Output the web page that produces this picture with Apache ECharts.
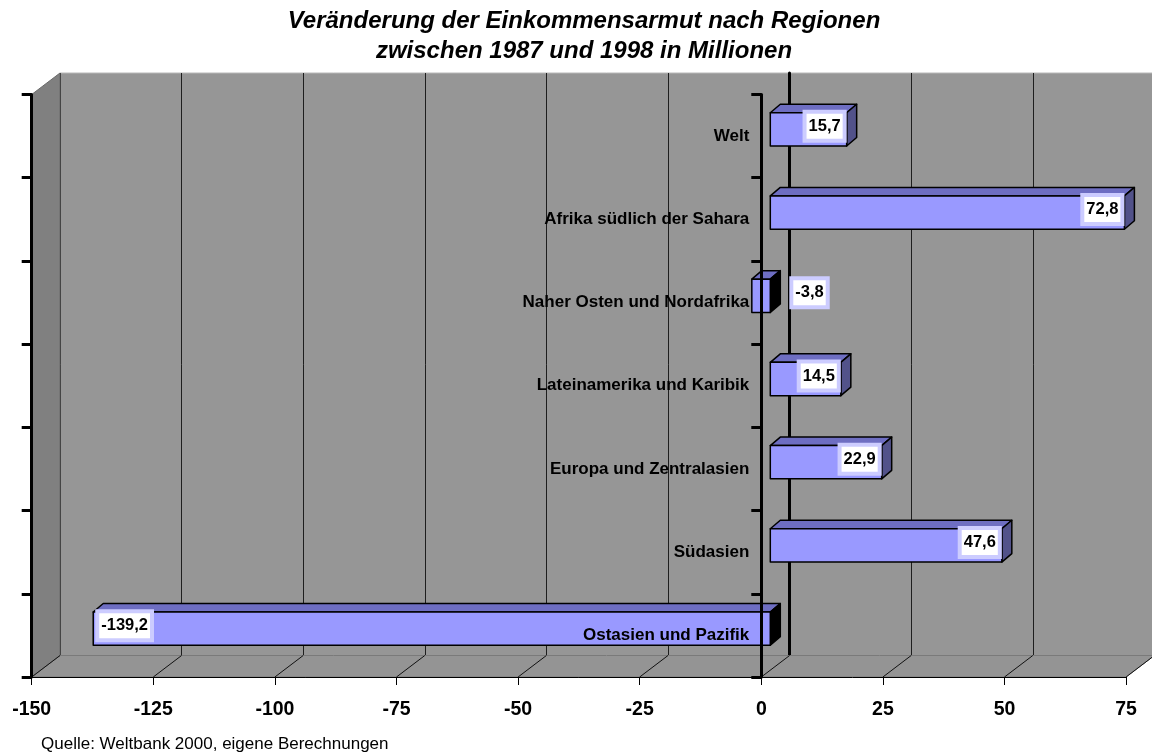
<!DOCTYPE html>
<html>
<head>
<meta charset="utf-8">
<script src="https://cdn.jsdelivr.net/npm/echarts@6/dist/echarts.min.js"></script>
<style>
html,body{margin:0;padding:0;background:#fff;}
#chart{width:1152px;height:753px;}
</style>
</head>
<body>
<div id="chart"></div>
<script>
// ---- data ----
const categories = ['Welt', 'Afrika südlich der Sahara', 'Naher Osten und Nordafrika', 'Lateinamerika und Karibik', 'Europa und Zentralasien', 'Südasien', 'Ostasien und Pazifik'];
const values = [15.7, 72.8, -3.8, 14.5, 22.9, 47.6, -139.2];
const valueLabels = ['15,7', '72,8', '-3,8', '14,5', '22,9', '47,6', '-139,2'];
const xTicks = [-150, -125, -100, -75, -50, -25, 0, 25, 50, 75];
const titleLines = ['Veränderung der Einkommensarmut nach Regionen', 'zwischen 1987 und 1998 in Millionen'];
const sourceText = 'Quelle: Weltbank 2000, eigene Berechnungen';

// ---- layout / style ----
const FONT = "Liberation Sans";
const G = { left: 31.7, top: 94.5, width: 1094.4, height: 582.5 }; // front plane
const DEPTH = { dx: 28.3, dy: -21.5 };   // back wall offset
const BARPLANE = { dx: 9, dy: -6.75 };    // bar front face offset
const BARDEPTH = { dx: 10, dy: -8.5 };    // bar extrusion
const xMin = xTicks[0], xMax = xTicks[xTicks.length - 1], xStep = xTicks[1] - xTicks[0];

const chart = echarts.init(document.getElementById('chart'), null, { renderer: 'canvas' });

function gridAt(off, extra) {
  return Object.assign({
    left: G.left + off.dx, top: G.top + off.dy, width: G.width, height: G.height,
    containLabel: false, outerBoundsMode: 'none'
  }, extra || {});
}

const option = {
  animation: false,
  backgroundColor: '#ffffff',
  title: [{
    text: titleLines.join('\n'),
    left: 579, top: 2, textAlign: 'center',
    textStyle: { fontFamily: FONT, fontSize: 24, fontWeight: 'bold', fontStyle: 'italic', color: '#000', lineHeight: 29.5 }
  }, {
    text: sourceText, left: 36, top: 731,
    textStyle: { fontFamily: FONT, fontSize: 17, fontWeight: 'normal', color: '#000' }
  }],
  grid: [
    gridAt({ dx: 0, dy: 0 }),
    gridAt(DEPTH, { show: true, backgroundColor: '#969696', borderColor: '#B8B8B8', borderWidth: 1 }),
    gridAt(BARPLANE)
  ],
  xAxis: [{
    gridIndex: 0, type: 'value', min: xMin, max: xMax, interval: xStep,
    axisLine: { show: true, onZero: false, lineStyle: { color: '#000', width: 1 } },
    axisTick: { show: true, length: 8, lineStyle: { color: '#000', width: 1 } },
    axisLabel: { fontFamily: FONT, fontSize: 19.5, fontWeight: 'bold', color: '#000', margin: 23, hideOverlap: false },
    splitLine: { show: false }, z: 10
  }, {
    gridIndex: 1, type: 'value', min: xMin, max: xMax, interval: xStep,
    axisLine: { show: false }, axisTick: { show: false }, axisLabel: { show: false },
    splitLine: { show: true, lineStyle: { color: '#1e1e1e', width: 1 } }
  }, {
    gridIndex: 2, type: 'value', min: xMin, max: xMax, interval: xStep, show: false
  }],
  yAxis: [{
    gridIndex: 0, type: 'category', data: categories, inverse: true, position: 'left',
    axisLine: { show: true, onZero: false, lineStyle: { color: '#000', width: 3 } },
    axisTick: { show: true, length: 10, lineStyle: { color: '#000', width: 3 } },
    axisLabel: { show: false }, splitLine: { show: false }, z: 10
  }, {
    gridIndex: 0, type: 'category', data: categories, inverse: true, position: 'left', offset: 0,
    axisLine: { show: true, onZero: false, lineStyle: { color: '#000', width: 3 } },
    axisTick: { show: true, length: 10, lineStyle: { color: '#000', width: 3 } },
    axisLabel: { show: true, fontFamily: FONT, fontSize: 17, fontWeight: 'bold', color: '#000', margin: 12, interval: 0 },
    splitLine: { show: false }, z: 10
  }, {
    gridIndex: 1, type: 'category', data: categories, inverse: true,
    axisLine: { show: true, onZero: true, lineStyle: { color: '#000', width: 3 } },
    axisTick: { show: false }, axisLabel: { show: false }, splitLine: { show: false }
  }, {
    gridIndex: 2, type: 'category', data: categories, inverse: true, show: false
  }],
  series: [{
    type: 'custom',
    xAxisIndex: 2, yAxisIndex: 3,
    z: 5,
    data: values.map((v, i) => [v, i]),
    encode: { x: 0, y: 1 },
    renderItem: function (params, api) {
      const v = api.value(0), i = api.value(1);
      const p0 = api.coord([0, i]);
      const p1 = api.coord([v, i]);
      const h = api.size([0, 1])[1] * 0.4;
      const xl = Math.min(p0[0], p1[0]), xr = Math.max(p0[0], p1[0]);
      const yt = p0[1] - h / 2, yb = p0[1] + h / 2;
      const dx = BARDEPTH.dx, dy = BARDEPTH.dy;
      const stroke = { stroke: '#000', lineWidth: 1.5, lineJoin: 'round' };
      const children = [
        { type: 'polygon', shape: { points: [[xl, yt], [xl + dx, yt + dy], [xr + dx, yt + dy], [xr, yt]] }, style: Object.assign({ fill: '#6E6EC2' }, stroke) },
        { type: 'polygon', shape: { points: [[xr, yt], [xr + dx, yt + dy], [xr + dx, yb + dy], [xr, yb]] }, style: Object.assign({ fill: v < 0 ? '#000000' : '#52528A' }, stroke) },
        { type: 'rect', shape: { x: xl, y: yt, width: xr - xl, height: h }, style: Object.assign({ fill: '#9999FF' }, stroke) }
      ];
      let tx, align;
      if (v >= 0) { tx = xr - 4; align = 'right'; }
      else if (xr - xl > 60) { tx = xl + 6; align = 'left'; }
      else { tx = p0[0] + 23; align = 'left'; }
      children.push({
        type: 'text',
        style: {
          x: tx, y: p0[1] - 3, text: valueLabels[params.dataIndex],
          align: align, verticalAlign: 'middle',
          fontFamily: FONT, fontSize: 16.5, fontWeight: 'bold', fill: '#000',
          backgroundColor: '#FFFFFF', borderColor: '#CCCCFF', borderWidth: 4,
          padding: [4, 2, 4, 2]
        }
      });
      return { type: 'group', children: children };
    }
  }]
};

chart.setOption(option);

// category axis sits on the value axis' zero (front plane), with its labels
const zeroX = chart.convertToPixel({ xAxisIndex: 0 }, 0);
const leftX = chart.convertToPixel({ xAxisIndex: 0 }, xMin);
chart.setOption({ yAxis: [{}, { offset: -(zeroX - leftX) }, {}, {}] });

// 3D box decoration (floor and side wall), positioned through the axis scale
const FB = G.top + G.height, FT = G.top;
const FL = leftX;
const FR = chart.convertToPixel({ xAxisIndex: 0 }, xMax);
const D = DEPTH;
const graphics = [];
graphics.push({
  type: 'polygon', z: 1, silent: true,
  shape: { points: [[FL, FB], [FR, FB], [FR + D.dx, FB + D.dy], [FL + D.dx, FB + D.dy]] },
  style: { fill: '#949494', stroke: '#7A7A7A', lineWidth: 1 }
});
graphics.push({
  type: 'polygon', z: 1, silent: true,
  shape: { points: [[FL, FT], [FL + D.dx, FT + D.dy], [FL + D.dx, FB + D.dy], [FL, FB]] },
  style: { fill: '#808080', stroke: '#6A6A6A', lineWidth: 1 }
});
xTicks.forEach(function (t) {
  const x = chart.convertToPixel({ xAxisIndex: 0 }, t);
  graphics.push({
    type: 'line', z: 2, silent: true,
    shape: { x1: x, y1: FB, x2: x + D.dx, y2: FB + D.dy },
    style: { stroke: '#111', lineWidth: 1 }
  });
});
chart.setOption({ graphic: graphics });
</script>
</body>
</html>
